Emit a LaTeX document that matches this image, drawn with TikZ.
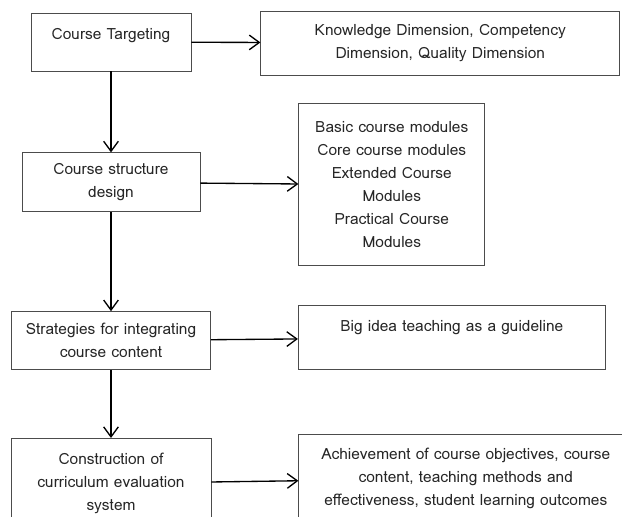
\documentclass[tikz,border=0pt]{standalone}
\usepackage{fontspec}
\setmainfont{Loma}
\usepackage{tikz}
\usetikzlibrary{arrows.meta, positioning}
\tikzstyle{box} = [rectangle, align=center, draw=black!70, line width=0.6pt, text=black!85, font=\fontsize{11.6}{17.25}\selectfont, inner sep=2pt]
\tikzstyle{arrow} = [line width=1pt, -{Straight Barb[length=7.5pt,width=11pt]}]

\begin{document}
\begin{tikzpicture}[node distance=1cm]
	\path[use as bounding box, clip] (0,0) rectangle (466.5pt,-387.75pt);
	\node (target) [box, minimum width=120pt, minimum height=43.5pt, text height=8pt, text depth=11.5pt] at (83.25pt,-31.5pt) {Course Targeting};
	\node (dims) [box, minimum width=269.25pt, minimum height=48pt, right=51.75pt of target, yshift=-0.75pt] {Knowledge Dimension, Competency\\Dimension, Quality Dimension};
	\node (design) [box, minimum width=133.5pt, minimum height=44.25pt, below=60.75pt of target] {Course structure\\design};
	\node (modules) [box, minimum width=139.5pt, minimum height=121.5pt, right=73.5pt of design, yshift=-1.9pt] {Basic course modules\\Core course modules\\Extended Course\\Modules\\Practical Course\\Modules};
	\node (strategy) [box, minimum width=149.25pt, minimum height=43.5pt, below=74.25pt of design] {Strategies for integrating\\course content};
	\node (bigidea) [box, minimum width=230.25pt, minimum height=48pt, text height=8pt, text depth=17.5pt, right=65.25pt of strategy, yshift=2.25pt] {Big idea teaching as a guideline};
	\node (eval) [box, minimum width=150pt, minimum height=67.5pt, below=51pt of strategy] {Construction of\\curriculum evaluation\\system};
	\node (achieve) [box, minimum width=250.5pt, minimum height=66pt, right=65.25pt of eval, yshift=3.75pt] {Achievement of course objectives, course\\content, teaching methods and\\effectiveness, student learning outcomes};

	\draw [arrow] (target) -- (dims);
	\draw [arrow] (target) -- (design);
	\draw [arrow] (design) -- (modules);
	\draw [arrow] (design) -- (strategy);
	\draw [arrow] (strategy) -- (bigidea);
	\draw [arrow] (strategy) -- (eval);
	\draw [arrow] (eval) -- (achieve);
\end{tikzpicture}
\end{document}
